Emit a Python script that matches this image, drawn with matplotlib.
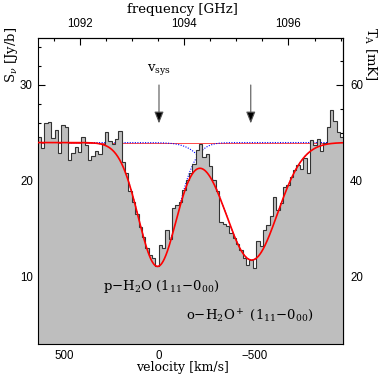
import numpy as np
import matplotlib
matplotlib.use("Agg")
import matplotlib.pyplot as plt
from matplotlib.ticker import MultipleLocator, FixedLocator

# spectrum, one value per channel, from high to low velocity
v_first = 637.0      # km/s, outer edge of the first channel
dv = 17.65           # km/s, channel width
flux = [24.6, 23.4, 26.0, 26.1, 24.5, 25.3, 22.9, 25.8, 25.6, 22.2,
        22.9, 23.5, 23.0, 24.6, 23.7, 22.2, 22.6, 23.1, 22.8, 23.9,
        25.1, 24.2, 23.9, 24.4, 25.2, 22.0, 20.8, 18.9, 17.8, 16.6,
        15.2, 14.2, 13.0, 12.3, 12.0, 11.1, 13.3, 13.0, 14.9, 13.9,
        17.2, 17.5, 17.8, 19.1, 20.1, 20.8, 21.8, 23.2, 23.9, 22.5,
        22.8, 21.6, 20.1, 18.9, 15.7, 15.5, 15.3, 14.6, 14.0, 13.4,
        12.8, 12.0, 11.2, 11.8, 10.9, 13.7, 13.2, 14.9, 15.4, 16.3,
        18.3, 17.0, 17.7, 19.4, 19.6, 20.4, 21.1, 21.7, 21.2, 22.4,
        20.8, 24.3, 23.7, 24.4, 23.1, 24.0, 25.6, 27.4, 26.2, 25.1,
        24.6]

# two gaussian fit (continuum minus two absorption components)
continuum = 24.0
line_centers = [8.0, -487.0]     # km/s
line_depths = [12.9, 12.25]      # Jy/b
line_sigmas = [100.0, 135.0]     # km/s

arrow_vel = [0.0, -482.0]
f_sys = 1093.52      # GHz at v = 0
c_kms = 299792.458
jy_to_mk = 2.0

# tick positions of the secondary axes (only the visible ones)
freq_major = [1092, 1094, 1096]
freq_minor = [1091.5, 1092.5, 1093, 1093.5, 1094.5, 1095, 1095.5, 1096.5, 1097]
ta_major = [20, 40, 60]
ta_minor = [10, 15, 25, 30, 35, 45, 50, 55, 65]

v_min, v_max = -968.0, 637.0
s_min, s_max = 3.0, 34.9

plt.rcParams['font.family'] = ['DejaVu Serif']
plt.rcParams['mathtext.fontset'] = 'dejavuserif'

fig = plt.figure(figsize=(3.82, 3.75), dpi=100)
ax = fig.add_axes([0.0987, 0.0827, 0.800, 0.816])

edges = v_first - dv * np.arange(len(flux) + 1)
vals = np.array(flux)

# thin continuum and single components go underneath the grey spectrum
vv = np.linspace(v_max, v_min, 1000)
comps = [d * np.exp(-(vv - c) ** 2 / (2 * s ** 2))
         for c, d, s in zip(line_centers, line_depths, line_sigmas)]
ax.axhline(continuum, color='red', lw=0.5, zorder=1)
for comp in comps:
    ax.plot(vv, continuum - comp, color='blue', lw=0.8, ls=(0, (1, 1.3)), zorder=1.2)

ax.stairs(vals[::-1], edges[::-1], fill=True, baseline=0, color='#bebebe', zorder=2)
ax.stairs(vals[::-1], edges[::-1], baseline=None, color='#333333', lw=0.8, zorder=2.5)

ax.plot(vv, continuum - comps[0] - comps[1], color='red', lw=1.2, zorder=3)

# arrows at the systemic velocity and at the second line
for v in arrow_vel:
    ax.annotate('', xy=(v, 26.0), xytext=(v, 30.0),
                arrowprops=dict(arrowstyle='-|>,head_length=0.7,head_width=0.28',
                                color='#555555', fc='black', lw=0.8, shrinkA=0, shrinkB=0),
                zorder=4)
ax.text(arrow_vel[0], 30.8, r'v$_{\rm sys}$', ha='center', va='bottom', fontsize=9.5)

ax.text(294, 8.96, r'p$-$H$_2$O (1$_{11}$$-$0$_{00}$)', ha='left', va='center', fontsize=9.5)
ax.text(-140, 5.97, r'o$-$H$_2$O$^+$ (1$_{11}$$-$0$_{00}$)', ha='left', va='center', fontsize=9.5)

ax.set_xlim(v_max, v_min)
ax.set_ylim(s_min, s_max)

tick_font = {'family': 'Liberation Sans', 'size': 8.3}

ax.xaxis.set_major_locator(MultipleLocator(500))
ax.xaxis.set_minor_locator(MultipleLocator(100))
ax.yaxis.set_major_locator(MultipleLocator(10))
ax.yaxis.set_minor_locator(MultipleLocator(2))
ax.tick_params(which='both', direction='in', top=False, right=False)
ax.tick_params(which='major', length=5, width=0.8)
ax.tick_params(which='minor', length=2.5, width=0.8)
ax.tick_params(axis='x', pad=4)
ax.tick_params(axis='y', pad=3.5)
for lab in ax.get_xticklabels() + ax.get_yticklabels():
    lab.set_fontfamily(tick_font['family'])
    lab.set_fontsize(tick_font['size'])


def v2f(v):
    return f_sys * (1 - np.asarray(v) / c_kms)


def f2v(f):
    return c_kms * (1 - np.asarray(f) / f_sys)


top = ax.secondary_xaxis('top', functions=(v2f, f2v))
top.xaxis.set_major_locator(FixedLocator(freq_major))
top.xaxis.set_minor_locator(FixedLocator(freq_minor))
top.tick_params(which='both', direction='in', pad=6)
top.tick_params(which='major', length=5, width=0.8)
top.tick_params(which='minor', length=2.5, width=0.8)
for lab in top.get_xticklabels():
    lab.set_fontfamily(tick_font['family'])
    lab.set_fontsize(tick_font['size'])

right = ax.secondary_yaxis('right', functions=(lambda s: s * jy_to_mk, lambda t: t / jy_to_mk))
right.yaxis.set_major_locator(FixedLocator(ta_major))
right.yaxis.set_minor_locator(FixedLocator(ta_minor))
right.tick_params(which='both', direction='in', pad=5)
right.tick_params(which='major', length=5, width=0.8)
right.tick_params(which='minor', length=2.5, width=0.8)
for lab in right.get_yticklabels():
    lab.set_fontfamily(tick_font['family'])
    lab.set_fontsize(tick_font['size'])

for sp in ax.spines.values():
    sp.set_linewidth(0.8)

fig.text(182 / 382, 1 - 9 / 375, 'frequency [GHz]', ha='center', va='center', fontsize=9.5)
fig.text(182 / 382, 1 - 367 / 375, 'velocity [km/s]', ha='center', va='center', fontsize=9)
fig.text(11 / 382, 1 - 27 / 375, r'S$_\nu$ [Jy/b]', rotation=90, ha='center', va='top', fontsize=9.5)
fig.text(370 / 382, 1 - 27 / 375, r'T$_{\rm A}$ [mK]', rotation=-90, ha='center', va='top', fontsize=9.5)

fig.savefig('out.png', dpi=100)
